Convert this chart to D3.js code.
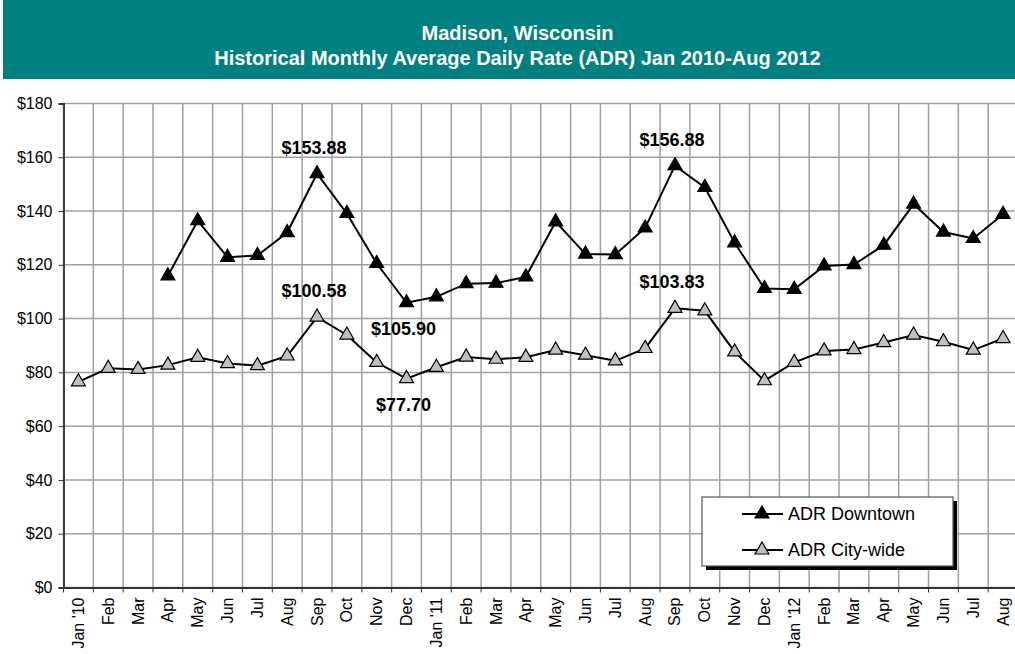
<!DOCTYPE html>
<html>
<head>
<meta charset="utf-8">
<script src="https://cdn.jsdelivr.net/npm/d3@7"></script>
<style>
  body { margin: 0; background: #fff; }
  svg { display: block; font-family: "Liberation Sans", Arial, sans-serif; }
</style>
</head>
<body>
<svg id="chart" width="1015" height="654"></svg>
<script>
// chart data
const months = ["Jan '10", 'Feb', 'Mar', 'Apr', 'May', 'Jun', 'Jul', 'Aug', 'Sep', 'Oct', 'Nov', 'Dec',
  "Jan '11", 'Feb ', 'Mar ', 'Apr ', 'May ', 'Jun ', 'Jul ', 'Aug ', 'Sep ', 'Oct ', 'Nov ', 'Dec ',
  "Jan '12", 'Feb  ', 'Mar  ', 'Apr  ', 'May  ', 'Jun  ', 'Jul  ', 'Aug  '];
const downtown = [null, null, null, 115.9, 136.4, 122.8, 123.5, 132.0, 153.88, 139.1, 120.5, 105.90,
  108.1, 113.0, 113.2, 115.5, 136.0, 124.0, 123.8, 133.7, 156.88, 148.8, 128.2, 111.2,
  110.9, 119.6, 120.1, 127.3, 142.6, 132.2, 129.8, 138.8];
const citywide = [76.5, 81.5, 81.1, 82.7, 85.6, 83.3, 82.5, 86.1, 100.58, 93.9, 83.7, 77.70,
  81.9, 85.7, 84.9, 85.6, 88.3, 86.4, 84.3, 88.9, 103.83, 102.9, 87.6, 76.9,
  83.7, 88.0, 88.5, 91.1, 93.9, 91.4, 88.3, 92.6];
const yTicks = [0, 20, 40, 60, 80, 100, 120, 140, 160, 180];
const titleLines = ['Madison, Wisconsin', 'Historical Monthly Average Daily Rate (ADR) Jan 2010-Aug 2012'];
// which points get a value label: [series, month index, above?]
const callouts = [['downtown', 8, true], ['downtown', 11, false], ['downtown', 20, true],
  ['citywide', 8, true], ['citywide', 11, false], ['citywide', 20, true]];

const svg = d3.select('#chart');
const W = 1015;
const margin = {top: 103.5, left: 63.5, right: -3, bottom: 66.5};
const x = d3.scaleBand().domain(months).range([margin.left, W - margin.right]);
const y = d3.scaleLinear().domain([0, 180]).range([654 - margin.bottom, margin.top]);
const series = {downtown: downtown, citywide: citywide};
const fmt = d3.format('.2f');

// title band
svg.append('rect')
    .attr('x', 3).attr('y', 0)
    .attr('width', W - 3).attr('height', 79)
    .attr('fill', '#008080');
svg.selectAll('text.title')
    .data(titleLines)
  .enter().append('text')
    .attr('class', 'title')
    .attr('x', W / 2 + 10)
    .attr('y', (d, i) => 33 + i * 25)
    .attr('text-anchor', 'middle')
    .attr('dominant-baseline', 'central')
    .attr('fill', '#fff')
    .attr('font-size', '20px')
    .attr('font-weight', 'bold')
    .text(d => d);

// horizontal gridlines
svg.append('g')
    .selectAll('line')
    .data(yTicks)
  .enter().append('line')
    .attr('x1', margin.left).attr('x2', W - margin.right)
    .attr('y1', d => y(d)).attr('y2', d => y(d))
    .attr('stroke', '#a0a0a0')
    .attr('stroke-width', 1.5);

// vertical gridlines at category boundaries (extend below axis as tick marks)
const bounds = months.map(m => x(m)).concat([x(months[months.length - 1]) + x.bandwidth()]);
svg.append('g')
    .selectAll('line')
    .data(bounds)
  .enter().append('line')
    .attr('x1', d => d).attr('x2', d => d)
    .attr('y1', y(180)).attr('y2', y(0))
    .attr('stroke', '#a0a0a0')
    .attr('stroke-width', 1.5);
svg.append('g')
    .selectAll('line')
    .data(bounds)
  .enter().append('line')
    .attr('x1', d => d).attr('x2', d => d)
    .attr('y1', y(0)).attr('y2', y(0) + 5)
    .attr('stroke', '#333');

// y axis
svg.append('g')
    .attr('class', 'y axis')
    .attr('transform', 'translate(' + margin.left + ',0)')
    .call(d3.axisLeft(y).tickValues(yTicks).tickFormat(d => '$' + d).tickSize(5).tickPadding(6))
    .call(g => g.select('.domain').attr('stroke', '#404040').attr('stroke-width', 2))
    .call(g => g.selectAll('.tick line').attr('stroke', '#333'))
    .selectAll('text')
    .attr('font-size', '16px')
    .attr('font-family', '"Liberation Sans", Arial, sans-serif')
    .attr('fill', '#000');

// x axis
svg.append('g')
    .attr('class', 'x axis')
    .attr('transform', 'translate(0,' + y(0) + ')')
    .call(d3.axisBottom(x).tickSize(0).tickFormat(d => d.trim()))
    .call(g => g.select('.domain').attr('stroke', '#333').attr('stroke-width', 2))
    .selectAll('text')
    .attr('font-size', '16px')
    .attr('font-family', '"Liberation Sans", Arial, sans-serif')
    .attr('fill', '#000')
    .attr('text-anchor', 'end')
    .attr('dy', null)
    .attr('dominant-baseline', 'central')
    .attr('transform', 'translate(0,10) rotate(-90)')
    .attr('y', 0)
    .attr('x', 0);

// lines + markers
const line = d3.line()
    .defined(d => d.v != null)
    .x(d => x(d.m) + x.bandwidth() / 2)
    .y(d => y(d.v));
const tri = d3.symbol(d3.symbolTriangle, 84);
const fills = {downtown: '#000', citywide: '#c0c0c0'};

Object.keys(series).forEach(key => {
  const pts = months.map((m, i) => ({m: m, v: series[key][i]}));
  svg.append('path')
      .datum(pts)
      .attr('fill', 'none')
      .attr('stroke', '#000')
      .attr('stroke-width', 2)
      .attr('d', line);
  svg.append('g')
      .selectAll('path')
      .data(pts.filter(d => d.v != null))
    .enter().append('path')
      .attr('d', tri)
      .attr('transform', d => 'translate(' + (x(d.m) + x.bandwidth() / 2) + ',' + y(d.v) + ')')
      .attr('fill', fills[key])
      .attr('stroke', '#000')
      .attr('stroke-width', 1.2);
});

// value callouts
svg.append('g')
    .selectAll('text')
    .data(callouts)
  .enter().append('text')
    .attr('x', d => x(months[d[1]]) + x.bandwidth() / 2 - 3)
    .attr('y', d => y(series[d[0]][d[1]]) + (d[2] ? -26 : 26))
    .attr('text-anchor', 'middle')
    .attr('dominant-baseline', 'central')
    .attr('font-size', '18px')
    .attr('font-weight', 'bold')
    .text(d => '$' + fmt(series[d[0]][d[1]]));

// legend
const legend = svg.append('g').attr('transform', 'translate(702,497)');
legend.append('rect')
    .attr('x', 4).attr('y', 4)
    .attr('width', 251).attr('height', 69)
    .attr('fill', '#000');
legend.append('rect')
    .attr('width', 251).attr('height', 69)
    .attr('fill', '#fff')
    .attr('stroke', '#555')
    .attr('stroke-width', 1.2);
const legendItems = [['downtown', 'ADR Downtown'], ['citywide', 'ADR City-wide']];
legendItems.forEach((item, i) => {
  const row = legend.append('g').attr('transform', 'translate(0,' + (17 + i * 36) + ')');
  row.append('line')
      .attr('x1', 40).attr('x2', 81)
      .attr('stroke', '#000')
      .attr('stroke-width', 2);
  row.append('path')
      .attr('d', tri)
      .attr('transform', 'translate(60,0)')
      .attr('fill', fills[item[0]])
      .attr('stroke', '#000')
      .attr('stroke-width', 1.2);
  row.append('text')
      .attr('x', 86)
      .attr('dominant-baseline', 'central')
      .attr('font-size', '18px')
      .text(item[1]);
});
</script>
</body>
</html>
